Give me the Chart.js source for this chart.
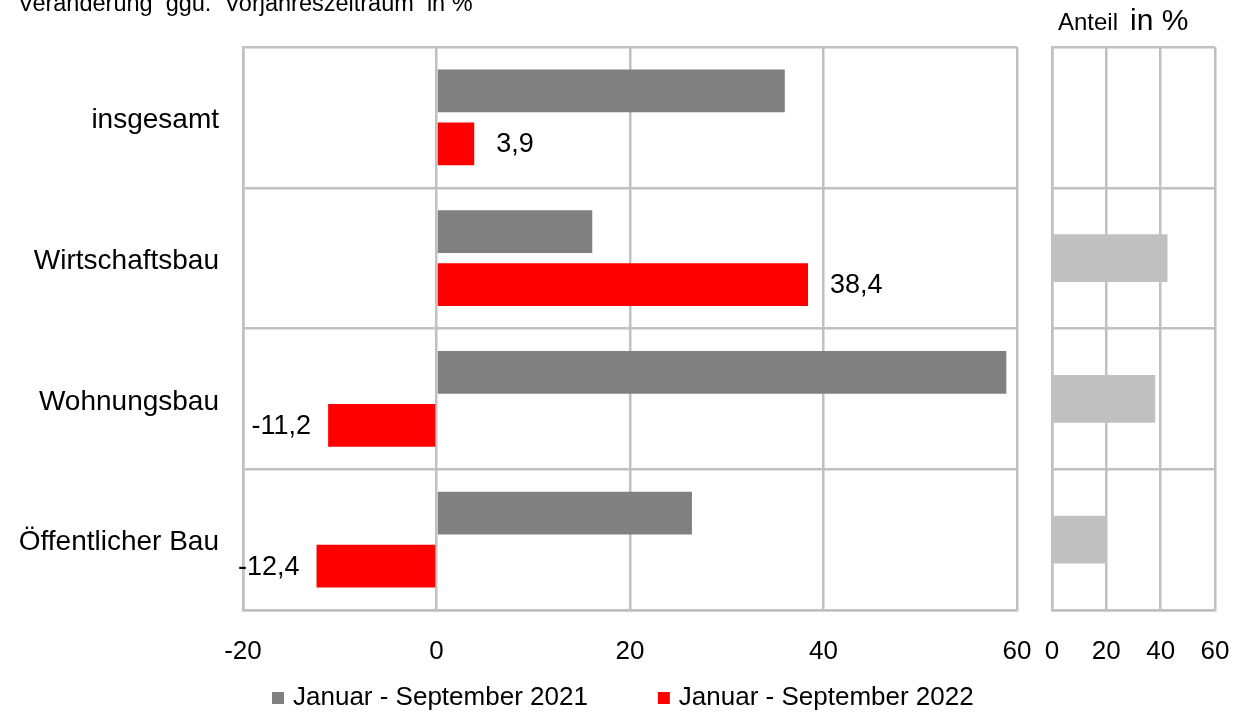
<!DOCTYPE html>
<html>
<head>
<meta charset="utf-8">
<script src="https://cdn.jsdelivr.net/npm/chart.js@4.4.0/dist/chart.umd.min.js"></script>
<style>
  body { margin: 0; background: #fff; }
  #wrap { position: relative; width: 1242px; height: 715px; }
  #main { position: absolute; left: 0; top: 0; }
  #share { position: absolute; left: 1030px; top: 0; }
</style>
</head>
<body>
<div id="wrap">
  <canvas id="main" width="1242" height="715"></canvas>
  <canvas id="share" width="212" height="715"></canvas>
</div>
<script>
const categories = ['insgesamt', 'Wirtschaftsbau', 'Wohnungsbau', 'Öffentlicher Bau'];
const seriesLabels = ['Januar - September 2021', 'Januar - September 2022'];
const change2021 = [36.0, 16.1, 58.9, 26.4];
const change2022 = [3.9, 38.4, -11.2, -12.4];
const shareValues = [null, 42.5, 38.0, 19.5];
const changeTicks = [-20, 0, 20, 40, 60];
const shareTicks = [0, 20, 40, 60];

const FONT = "'Liberation Sans', Arial, sans-serif";
const GRID = '#c0c0c0';

// red values next to the bars, german decimal comma
const valueLabels = {
    id: 'valueLabels',
    afterDatasetsDraw(chart) {
        const ctx = chart.ctx;
        const meta = chart.getDatasetMeta(1);
        ctx.save();
        ctx.font = '27px ' + FONT;
        ctx.fillStyle = '#000';
        ctx.textBaseline = 'middle';
        meta.data.forEach((bar, i) => {
            const v = change2022[i];
            const txt = v.toFixed(1).replace('.', ',');
            if (v >= 0) {
                ctx.textAlign = 'left';
                ctx.fillText(txt, bar.x + 22, bar.y + 1);
            } else {
                ctx.textAlign = 'right';
                ctx.fillText(txt, bar.x - 17, bar.y + 1);
            }
        });
        ctx.restore();
    }
};

// legend + titles drawn by hand (legend gap is wider than chart.js allows)
const extras = {
    id: 'extras',
    afterDraw(chart) {
        const ctx = chart.ctx;
        ctx.save();
        ctx.fillStyle = '#000';
        ctx.textAlign = 'left';
        ctx.textBaseline = 'alphabetic';
        ctx.font = '23.5px ' + FONT;
        ctx.fillText('Veränderung  ggü.  Vorjahreszeitraum  in %', 18, 11);
        ctx.font = '24px ' + FONT;
        ctx.fillText('Anteil', 1058, 30);
        ctx.font = '30px ' + FONT;
        ctx.fillText('in %', 1130, 30);

        ctx.font = '26px ' + FONT;
        ctx.textBaseline = 'middle';
        let x = 272;
        chart.data.datasets.forEach(ds => {
            ctx.fillStyle = ds.backgroundColor;
            ctx.fillRect(x, 692, 12, 12);
            ctx.fillStyle = '#000';
            ctx.fillText(ds.label, x + 21, 698);
            x += 21 + ctx.measureText(ds.label).width + 70;
        });
        ctx.restore();
    }
};

const mainChart = new Chart(document.getElementById('main'), {
    type: 'bar',
    data: {
        labels: categories,
        datasets: [{
            label: seriesLabels[0],
            data: change2021,
            backgroundColor: '#808080',
        }, {
            label: seriesLabels[1],
            data: change2022,
            backgroundColor: '#ff0000',
        }],
    },
    options: {
        indexAxis: 'y',
        responsive: false,
        animation: false,
        categoryPercentage: 0.752,
        barPercentage: 0.811,
        layout: { padding: { top: 47, bottom: 45, left: 0, right: 0 } },
        plugins: {
            legend: { display: false },
            tooltip: { enabled: false },
        },
        scales: {
            x: {
                type: 'linear',
                min: -20,
                max: 60,
                afterBuildTicks: s => { s.ticks = changeTicks.map(v => ({ value: v })); },
                afterFit: s => { s.height = 60; },
                grid: { color: GRID, lineWidth: 2.5, drawTicks: false },
                border: { color: GRID, width: 2.5 },
                ticks: { color: '#000', font: { family: FONT, size: 26 }, padding: 26 },
            },
            y: {
                afterFit: s => { s.width = 243; },
                grid: { color: GRID, lineWidth: 2.5, drawTicks: false },
                border: { color: GRID, width: 2.5 },
                ticks: { color: '#000', font: { family: FONT, size: 28 }, padding: 24, labelOffset: 3 },
            },
            y2: {
                type: 'category',
                position: 'right',
                labels: categories,
                afterFit: s => { s.width = 225; },
                grid: { display: false },
                border: { display: false },
                ticks: { display: false },
            },
        },
    },
    plugins: [valueLabels, extras],
});

const shareChart = new Chart(document.getElementById('share'), {
    type: 'bar',
    data: {
        labels: categories,
        datasets: [{
            label: 'Anteil',
            data: shareValues,
            backgroundColor: '#c0c0c0',
        }],
    },
    options: {
        indexAxis: 'y',
        responsive: false,
        animation: false,
        categoryPercentage: 1,
        barPercentage: 0.34,
        layout: { padding: { top: 47, bottom: 45, left: 22, right: 27 } },
        plugins: {
            legend: { display: false },
            tooltip: { enabled: false },
        },
        scales: {
            x: {
                type: 'linear',
                min: 0,
                max: 60,
                afterBuildTicks: s => { s.ticks = shareTicks.map(v => ({ value: v })); },
                afterFit: s => { s.height = 60; s.paddingLeft = 0; s.paddingRight = 0; },
                grid: { color: GRID, lineWidth: 2.5, drawTicks: false },
                border: { color: GRID, width: 2.5 },
                ticks: { color: '#000', font: { family: FONT, size: 26 }, padding: 26 },
            },
            y: {
                afterFit: s => { s.width = 0; },
                grid: { color: GRID, lineWidth: 2.5, drawTicks: false },
                border: { color: GRID, width: 2.5 },
                ticks: { display: false },
            },
        },
    },
});
</script>
</body>
</html>
